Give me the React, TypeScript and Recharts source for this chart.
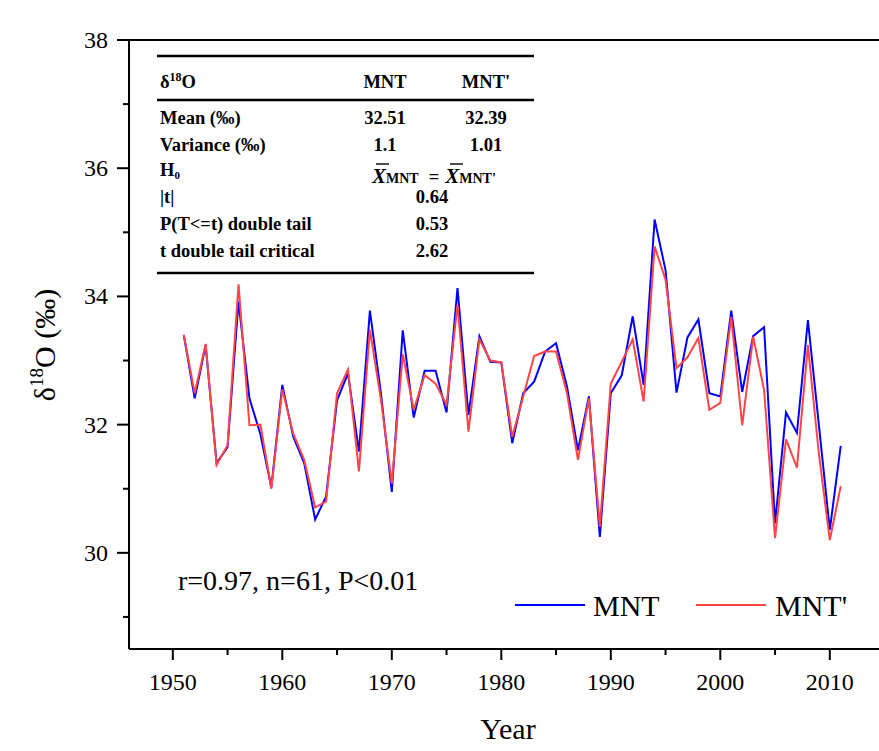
import { LineChart, Line, XAxis, YAxis, ReferenceLine, Legend } from 'recharts'

const years = [
  1951, 1952, 1953, 1954, 1955, 1956, 1957, 1958, 1959, 1960,
  1961, 1962, 1963, 1964, 1965, 1966, 1967, 1968, 1969, 1970,
  1971, 1972, 1973, 1974, 1975, 1976, 1977, 1978, 1979, 1980,
  1981, 1982, 1983, 1984, 1985, 1986, 1987, 1988, 1989, 1990,
  1991, 1992, 1993, 1994, 1995, 1996, 1997, 1998, 1999, 2000,
  2001, 2002, 2003, 2004, 2005, 2006, 2007, 2008, 2009, 2010,
  2011,
]

const mnt = [
  33.40, 32.41, 33.24, 31.40, 31.65, 33.92, 32.41, 31.85, 31.02, 32.62,
  31.81, 31.40, 30.52, 30.88, 32.38, 32.80, 31.58, 33.78, 32.50, 30.95,
  33.47, 32.11, 32.84, 32.84, 32.19, 34.13, 32.15, 33.38, 32.98, 32.97,
  31.71, 32.49, 32.67, 33.14, 33.27, 32.59, 31.60, 32.44, 30.25, 32.49,
  32.77, 33.69, 32.62, 35.20, 34.41, 32.50, 33.36, 33.64, 32.49, 32.44,
  33.78, 32.51, 33.38, 33.52, 30.46, 32.19, 31.87, 33.63, 32.00, 30.36,
  31.67,
]

const mntPrime = [
  33.40, 32.49, 33.26, 31.37, 31.68, 34.19, 31.99, 32.00, 31.00, 32.55,
  31.86, 31.45, 30.71, 30.80, 32.49, 32.86, 31.27, 33.48, 32.40, 31.08,
  33.10, 32.23, 32.77, 32.64, 32.31, 33.87, 31.89, 33.33, 33.00, 32.97,
  31.81, 32.44, 33.07, 33.14, 33.14, 32.49, 31.45, 32.41, 30.41, 32.64,
  32.98, 33.33, 32.36, 34.78, 34.26, 32.88, 33.05, 33.35, 32.23, 32.34,
  33.68, 31.99, 33.37, 32.54, 30.23, 31.77, 31.33, 33.24, 31.55, 30.20,
  31.04,
]

const xTicks = [1950, 1955, 1960, 1965, 1970, 1975, 1980, 1985, 1990, 1995, 2000, 2005, 2010, 2015]
const yTicks = [29, 30, 31, 32, 33, 34, 35, 36, 37, 38]

const tableRows = [
  { label: 'Mean (‰)', a: '32.51', b: '32.39' },
  { label: 'Variance (‰)', a: '1.1', b: '1.01' },
]
const tStat = '0.64'
const pValue = '0.53'
const tCritical = '2.62'
const statsNote = 'r=0.97, n=61, P<0.01'

const data = years.map((year, i) => ({ year, mnt: mnt[i], mntPrime: mntPrime[i] }))

const FONT = "'Liberation Serif', 'Times New Roman', serif"
const BLUE = '#0000ff'
const RED = '#ff4545'
const serif = { fontFamily: FONT }

const YTick = (props: any) => {
  const { x, y, payload } = props
  const major = payload.value % 2 === 0
  return (
    <g>
      <line x1={x} x2={x - (major ? 12 : 6)} y1={y} y2={y} stroke="#000" strokeWidth={2} />
      {major && (
        <text x={x - 21} y={y + 8} textAnchor="end" fontSize={24} style={serif} fill="#000">
          {payload.value}
        </text>
      )}
    </g>
  )
}

const XTick = (props: any) => {
  const { x, y, payload } = props
  const major = payload.value % 10 === 0
  return (
    <g>
      <line x1={x} x2={x} y1={y} y2={y + (major ? 11 : 6)} stroke="#000" strokeWidth={2} />
      {major && (
        <text x={x} y={y + 41} textAnchor="middle" fontSize={24} style={serif} fill="#000">
          {payload.value}
        </text>
      )}
    </g>
  )
}

const LegendBox = () => (
  <svg width={879} height={751} style={{ position: 'absolute', left: 0, top: 0, pointerEvents: 'none' }}>
    <line x1={515} x2={585} y1={605} y2={605} stroke={BLUE} strokeWidth={2} />
    <text x={593} y={616} fontSize={30} style={serif} fill="#000">MNT</text>
    <line x1={696} x2={766} y1={605} y2={605} stroke={RED} strokeWidth={2} />
    <text x={775} y={616} fontSize={30} style={serif} fill="#000">MNT'</text>
  </svg>
)

function StatsTable() {
  const left = 160
  const colA = 385
  const colB = 486
  const mid = 432
  const text = { fontSize: 18.5, style: serif, fontWeight: 700, fill: '#000' } as const
  return (
    <svg width={879} height={751} style={{ position: 'absolute', left: 0, top: 0, pointerEvents: 'none' }}>
      <line x1={157} x2={534} y1={56} y2={56} stroke="#000" strokeWidth={2.5} />
      <line x1={157} x2={534} y1={100} y2={100} stroke="#000" strokeWidth={2.5} />
      <line x1={157} x2={534} y1={273} y2={273} stroke="#000" strokeWidth={2.5} />
      <text x={left} y={88} {...text}>
        δ<tspan fontSize={12} dy={-7}>18</tspan><tspan dy={7}>O</tspan>
      </text>
      <text x={colA} y={88} textAnchor="middle" {...text}>MNT</text>
      <text x={colB} y={88} textAnchor="middle" {...text}>MNT'</text>
      {tableRows.map((r, i) => (
        <g key={r.label}>
          <text x={left} y={124 + i * 27} {...text}>{r.label}</text>
          <text x={colA} y={124 + i * 27} textAnchor="middle" {...text}>{r.a}</text>
          <text x={colB} y={124 + i * 27} textAnchor="middle" {...text}>{r.b}</text>
        </g>
      ))}
      <text x={left} y={176} {...text}>
        H<tspan fontSize={11} dy={3}>0</tspan>
      </text>
      <line x1={376} x2={389} y1={164} y2={164} stroke="#000" strokeWidth={1.4} />
      <line x1={450} x2={463} y1={164} y2={164} stroke="#000" strokeWidth={1.4} />
      <text x={372} y={183} {...text}>
        <tspan fontStyle="italic" fontSize={21}>X</tspan>
        <tspan fontSize={14}>MNT</tspan>
        <tspan dx={10}>=</tspan>
        <tspan dx={6} fontStyle="italic" fontSize={21}>X</tspan>
        <tspan fontSize={14}>MNT'</tspan>
      </text>
      <text x={left} y={203} {...text}>|t|</text>
      <text x={mid} y={203} textAnchor="middle" {...text}>{tStat}</text>
      <text x={left} y={230} {...text}>P(T&lt;=t) double tail</text>
      <text x={mid} y={230} textAnchor="middle" {...text}>{pValue}</text>
      <text x={left} y={257} {...text}>t double tail critical</text>
      <text x={mid} y={257} textAnchor="middle" {...text}>{tCritical}</text>
      <text x={178} y={590} fontSize={28} style={serif} fill="#000">{statsNote}</text>
    </svg>
  )
}

export default function App() {
  return (
    <div style={{ position: 'absolute', left: 0, top: 0, width: 879, height: 751, overflow: 'hidden', background: '#fff' }}>
      <LineChart width={900} height={751} data={data} margin={{ top: 40, right: 4.5, left: 0, bottom: 0 }}>
        <XAxis
          dataKey="year"
          type="number"
          domain={[1946, 2016]}
          ticks={xTicks}
          interval={0}
          height={102}
          tickSize={0}
          tickMargin={0}
          tickLine={false}
          axisLine={{ stroke: '#000', strokeWidth: 2 }}
          tick={<XTick />}
          label={{
            content: () => (
              <text x={508} y={739} textAnchor="middle" fontSize={30} style={serif} fill="#000">Year</text>
            ),
          }}
        />
        <YAxis
          type="number"
          domain={[28.5, 38]}
          ticks={yTicks}
          interval={0}
          width={129}
          tickSize={0}
          tickMargin={0}
          tickLine={false}
          axisLine={{ stroke: '#000', strokeWidth: 2 }}
          tick={<YTick />}
          label={{
            content: () => (
              <text
                transform="translate(55,345) rotate(-90)"
                textAnchor="middle"
                fontSize={30}
                style={serif}
                fill="#000"
              >
                δ<tspan fontSize={19} dy={-12}>18</tspan><tspan dy={12}>O (‰)</tspan>
              </text>
            ),
          }}
        />
        <ReferenceLine y={38} stroke="#000" strokeWidth={2} ifOverflow="visible" />
        <Line dataKey="mnt" name="MNT" stroke={BLUE} strokeWidth={2} dot={false} isAnimationActive={false} />
        <Line dataKey="mntPrime" name="MNT'" stroke={RED} strokeWidth={2} dot={false} isAnimationActive={false} />
        <Legend
          content={<LegendBox />}
          wrapperStyle={{ position: 'absolute', left: 0, top: 0, width: 0, height: 0, overflow: 'visible' }}
        />
      </LineChart>
      <StatsTable />
    </div>
  )
}
